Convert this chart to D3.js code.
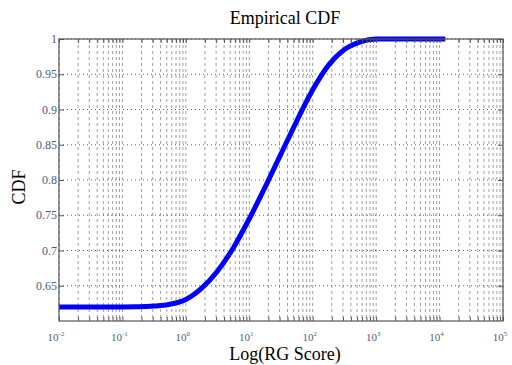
<!DOCTYPE html>
<html><head><meta charset="utf-8">
<script src="https://cdn.jsdelivr.net/npm/d3@7/dist/d3.min.js"></script>
<style>body{margin:0;background:#fff}svg{display:block}</style>
</head><body>
<svg id="c" width="512" height="365"></svg>
<script>
// RG score (x, log scale) and empirical CDF values
const rgScore = [0.01, 0.1, 0.178, 0.316, 0.562, 1.0, 1.778, 3.162, 5.623, 10, 17.78, 31.62, 56.23, 100, 177.8, 316.2, 562.3, 1000, 12300];
const cdfValue = [0.620, 0.620, 0.6202, 0.6212, 0.6238, 0.6305, 0.6465, 0.671, 0.704, 0.745, 0.790, 0.837, 0.884, 0.928, 0.963, 0.985, 0.996, 1.0, 1.0];
const yTicks = [0.65, 0.7, 0.75, 0.8, 0.85, 0.9, 0.95, 1];
const xTickExp = [-2, -1, 0, 1, 2, 3, 4, 5];
const titleText = "Empirical CDF";
const xLabel = "Log(RG Score)";
const yLabel = "CDF";

const svg = d3.select("#c");
const L = 59, R = 503, T = 39, B = 321;
const x = d3.scaleLog().domain([1e-2, 1e5]).range([L, R]);
const y = d3.scaleLinear().domain([0.6, 1]).range([B, T]);

// minor + major x values
const xGridVals = [];
for (let e = -2; e < 5; e++) for (let m = 1; m < 10; m++) xGridVals.push(m * Math.pow(10, e));
xGridVals.push(1e5);

const g = svg.append("g");
// vertical grid
g.selectAll("line.vg").data(xGridVals).join("line")
  .attr("x1", d => x(d)).attr("x2", d => x(d)).attr("y1", T).attr("y2", B)
  .attr("stroke", "#a0a0a0").attr("stroke-width", 1).attr("stroke-dasharray", "3,3");
// horizontal grid
g.selectAll("line.hg").data(yTicks).join("line")
  .attr("x1", L).attr("x2", R).attr("y1", d => y(d)).attr("y2", d => y(d))
  .attr("stroke", "#666").attr("stroke-width", 1).attr("stroke-dasharray", "1,3");

// curve
const line = d3.line().x((d, i) => x(rgScore[i])).y((d, i) => y(cdfValue[i])).curve(d3.curveMonotoneX);
svg.append("path").datum(cdfValue).attr("d", line)
  .attr("fill", "none").attr("stroke", "#0000ff").attr("stroke-width", 5).attr("stroke-linecap", "butt");

// axes box
svg.append("rect").attr("x", L).attr("y", T).attr("width", R - L).attr("height", B - T)
  .attr("fill", "none").attr("stroke", "#555").attr("stroke-width", 1.2);

// ticks (inward)
const xAxisB = d3.axisBottom(x).tickValues(xGridVals).tickSize(-4).tickFormat("");
const xAxisT = d3.axisTop(x).tickValues(xGridVals).tickSize(-4).tickFormat("");
const yAxisL = d3.axisLeft(y).tickValues(yTicks).tickSize(-5).tickFormat("");
const yAxisR = d3.axisRight(y).tickValues(yTicks).tickSize(-5).tickFormat("");
[[xAxisB, `translate(0,${B})`], [xAxisT, `translate(0,${T})`], [yAxisL, `translate(${L},0)`], [yAxisR, `translate(${R},0)`]].forEach(([ax, tr]) => {
  const a = svg.append("g").attr("transform", tr).call(ax);
  a.select(".domain").remove();
  a.selectAll("line").attr("stroke", "#555").attr("stroke-width", 1);
});

const labColor = "#4f5d7e";
const font = "'Liberation Serif','Times New Roman',serif";
// y tick labels
svg.append("g").selectAll("text").data(yTicks).join("text")
  .attr("x", L - 2).attr("y", d => y(d) + 4)
  .attr("text-anchor", "end").attr("font-family", font).attr("font-size", 12)
  .attr("fill", labColor).text(d => d3.format("")(d));
// x tick labels
const xl = svg.append("g").selectAll("text").data(xTickExp).join("text")
  .attr("x", d => x(Math.pow(10, d)) - 3).attr("y", B + 20)
  .attr("text-anchor", "middle").attr("font-family", font).attr("font-size", 11)
  .attr("fill", labColor);
xl.append("tspan").text("10");
xl.append("tspan").attr("dy", -5).attr("font-size", 7).text(d => d);

// title & labels
svg.append("text").attr("x", 285).attr("y", 24).attr("text-anchor", "middle")
  .attr("font-family", font).attr("font-size", 18).attr("fill", "#000").text(titleText);
svg.append("text").attr("x", 285).attr("y", 360).attr("text-anchor", "middle")
  .attr("font-family", font).attr("font-size", 18).attr("fill", "#000").text(xLabel);
svg.append("text").attr("transform", "translate(25,187) rotate(-90)").attr("text-anchor", "middle")
  .attr("font-family", font).attr("font-size", 18).attr("fill", "#000").text(yLabel);
</script>
</body></html>
